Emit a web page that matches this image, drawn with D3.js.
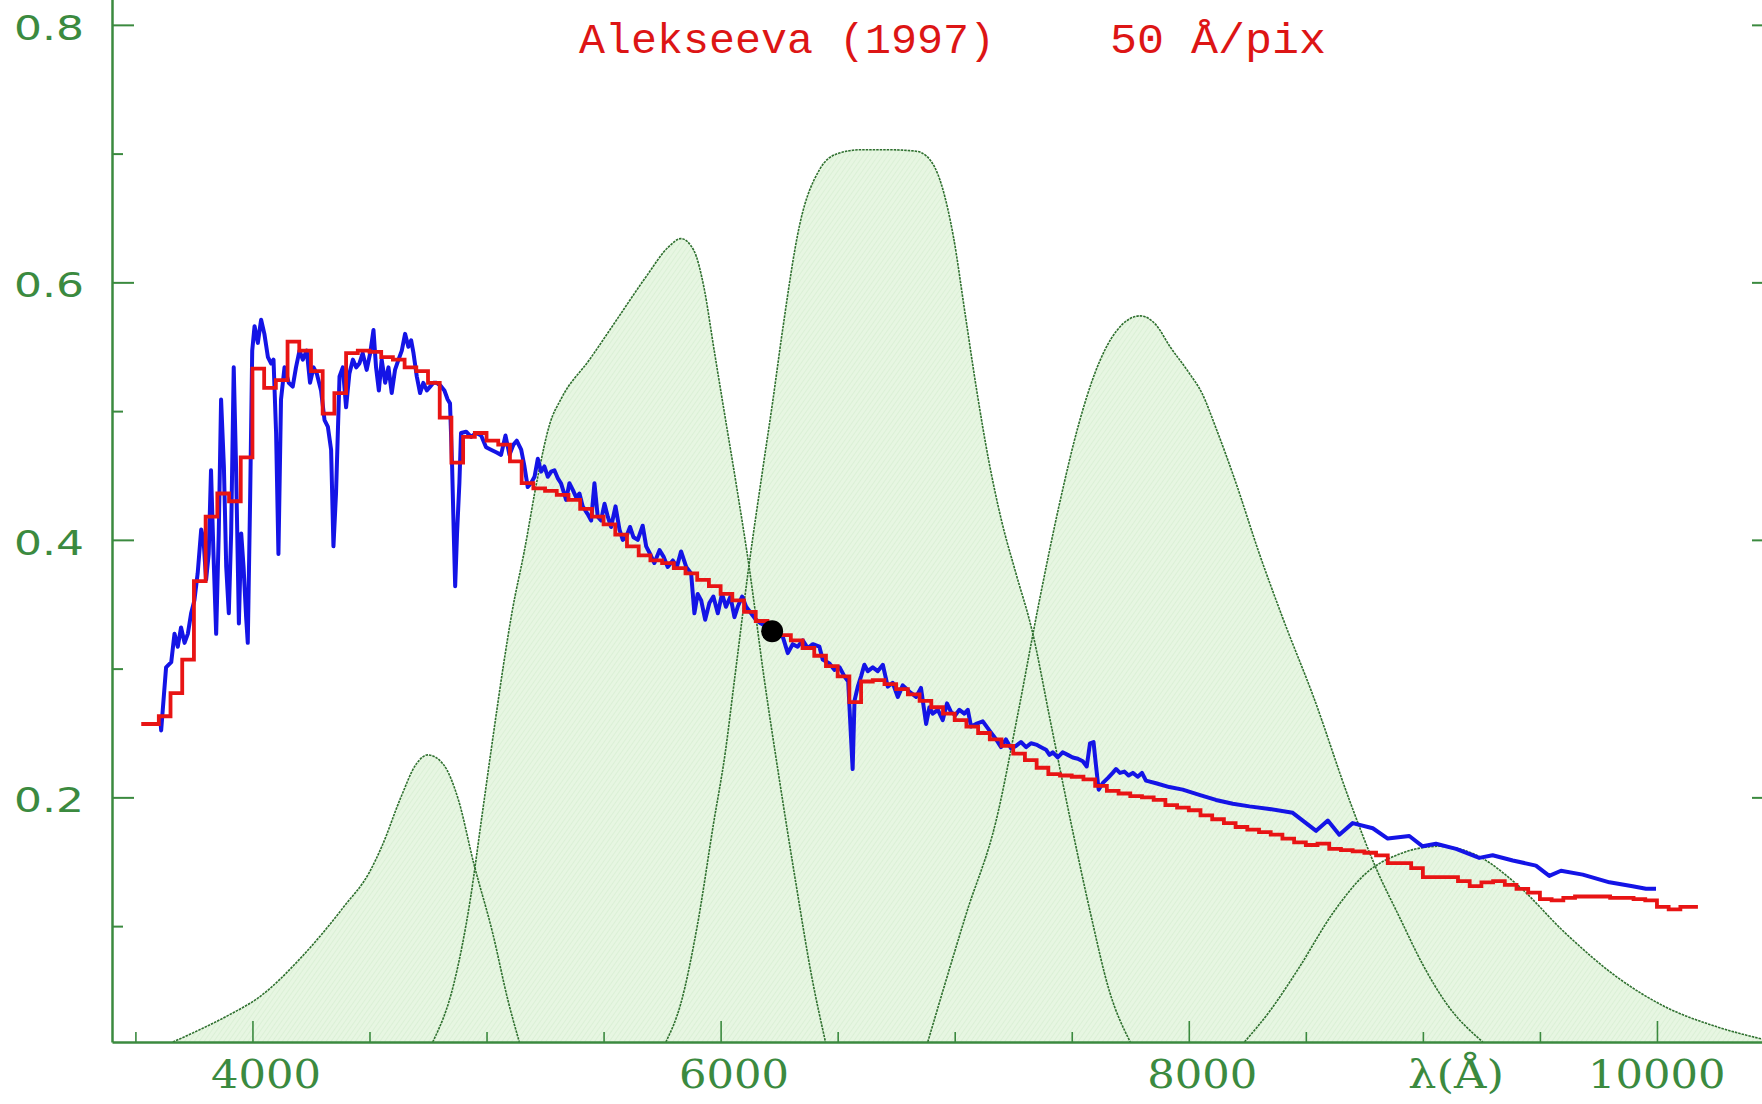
<!DOCTYPE html>
<html lang="en">
<head>
<meta charset="UTF-8">
<title>Alekseeva (1997) spectrum and filter curves</title>
<style>
  body { margin: 0; background: #fff; }
  svg { display: block; }
</style>
</head>
<body>
<svg id="chart"></svg>
<script src="https://d3js.org/d3.v7.min.js"></script>
<script>
// filter transmission curves [wavelength, value]
const filterB = [[3660,0.01],[3780,0.02],[3900,0.031],[4030,0.045],[4210,0.076],[4390,0.115],[4500,0.142],[4553,0.162],[4634,0.200],[4700,0.226],[4749,0.233],[4814,0.226],[4880,0.198],[4945,0.149],[5027,0.094],[5092,0.042],[5140,0.01]];
const filterV = [[4770,0.01],[4860,0.055],[4930,0.12],[4980,0.185],[5030,0.25],[5070,0.30],[5110,0.345],[5160,0.39],[5220,0.45],[5270,0.49],[5320,0.51],[5440,0.54],[5560,0.572],[5680,0.604],[5780,0.628],[5830,0.634],[5885,0.625],[5930,0.595],[5970,0.55],[6015,0.50],[6065,0.445],[6121,0.38],[6187,0.291],[6250,0.215],[6320,0.135],[6390,0.06],[6448,0.01]];
const filterR = [[5766,0.01],[5830,0.04],[5900,0.10],[5970,0.18],[6020,0.235],[6059,0.291],[6121,0.38],[6180,0.455],[6223,0.508],[6260,0.557],[6338,0.645],[6424,0.688],[6500,0.700],[6600,0.703],[6712,0.703],[6830,0.702],[6880,0.698],[6945,0.675],[6995,0.635],[7045,0.575],[7095,0.515],[7145,0.462],[7200,0.415],[7260,0.375],[7330,0.33],[7410,0.258],[7497,0.18],[7580,0.11],[7660,0.05],[7750,0.01]];
const filterI = [[6885,0.01],[6950,0.05],[7050,0.11],[7177,0.182],[7270,0.265],[7362,0.353],[7450,0.43],[7530,0.49],[7600,0.53],[7690,0.562],[7792,0.574],[7860,0.567],[7920,0.55],[8000,0.53],[8056,0.514],[8120,0.485],[8200,0.445],[8300,0.39],[8400,0.34],[8537,0.276],[8686,0.198],[8800,0.145],[8900,0.107],[9000,0.07],[9100,0.04],[9256,0.01]];
const filterZ = [[8238,0.01],[8350,0.035],[8472,0.068],[8615,0.110],[8757,0.141],[8900,0.156],[9070,0.162],[9241,0.154],[9398,0.133],[9612,0.094],[9825,0.061],[10039,0.037],[10253,0.022],[10480,0.011]];

// observed spectrum (blue)
const spectrum = [[3606,0.262],[3610,0.252],[3631,0.301],[3653,0.305],[3667,0.327],[3681,0.317],[3695,0.332],[3710,0.320],[3724,0.327],[3738,0.343],[3752,0.353],[3766,0.374],[3781,0.408],[3791,0.400],[3802,0.369],[3813,0.389],[3823,0.454],[3833,0.392],[3845,0.327],[3856,0.405],[3866,0.509],[3878,0.457],[3888,0.379],[3899,0.343],[3909,0.405],[3920,0.534],[3930,0.457],[3942,0.335],[3952,0.405],[3962,0.379],[3973,0.340],[3980,0.320],[3990,0.431],[3999,0.547],[4009,0.566],[4023,0.553],[4037,0.571],[4051,0.560],[4066,0.542],[4080,0.537],[4090,0.540],[4101,0.483],[4111,0.389],[4122,0.509],[4137,0.534],[4155,0.522],[4172,0.519],[4186,0.534],[4201,0.547],[4215,0.540],[4232,0.547],[4246,0.522],[4261,0.534],[4275,0.529],[4293,0.516],[4308,0.493],[4322,0.488],[4336,0.470],[4346,0.395],[4357,0.436],[4372,0.527],[4386,0.534],[4400,0.503],[4414,0.529],[4429,0.540],[4443,0.534],[4457,0.537],[4471,0.545],[4488,0.532],[4503,0.545],[4517,0.563],[4528,0.534],[4540,0.516],[4552,0.540],[4567,0.522],[4581,0.534],[4595,0.514],[4609,0.532],[4624,0.540],[4638,0.547],[4652,0.560],[4666,0.550],[4678,0.555],[4688,0.545],[4702,0.527],[4716,0.514],[4730,0.522],[4745,0.516],[4759,0.519],[4773,0.522],[4787,0.522],[4802,0.520],[4820,0.516],[4834,0.509],[4844,0.506],[4853,0.457],[4860,0.405],[4866,0.364],[4874,0.405],[4884,0.444],[4891,0.483],[4913,0.484],[4934,0.480],[4955,0.483],[4977,0.481],[4998,0.472],[5019,0.470],[5041,0.468],[5062,0.466],[5081,0.481],[5098,0.466],[5115,0.474],[5129,0.477],[5148,0.470],[5162,0.457],[5176,0.441],[5190,0.444],[5205,0.449],[5219,0.463],[5233,0.453],[5247,0.457],[5262,0.449],[5276,0.453],[5290,0.454],[5304,0.448],[5318,0.444],[5340,0.431],[5354,0.444],[5368,0.439],[5383,0.433],[5397,0.436],[5411,0.426],[5432,0.420],[5447,0.415],[5461,0.444],[5475,0.418],[5489,0.415],[5504,0.428],[5518,0.418],[5532,0.410],[5551,0.426],[5568,0.408],[5582,0.400],[5596,0.402],[5613,0.410],[5628,0.402],[5646,0.400],[5667,0.411],[5682,0.395],[5699,0.389],[5717,0.382],[5739,0.392],[5756,0.387],[5774,0.379],[5796,0.384],[5813,0.379],[5831,0.391],[5853,0.379],[5874,0.374],[5888,0.343],[5902,0.358],[5917,0.353],[5934,0.338],[5952,0.351],[5969,0.356],[5988,0.343],[6006,0.358],[6023,0.348],[6042,0.356],[6059,0.340],[6073,0.348],[6092,0.356],[6109,0.348],[6130,0.343],[6151,0.338],[6173,0.335],[6223,0.330],[6265,0.325],[6287,0.312],[6308,0.319],[6329,0.317],[6351,0.322],[6372,0.316],[6394,0.319],[6422,0.317],[6436,0.307],[6465,0.304],[6486,0.299],[6508,0.301],[6529,0.294],[6545,0.290],[6556,0.250],[6564,0.222],[6572,0.275],[6586,0.286],[6600,0.294],[6614,0.303],[6629,0.298],[6650,0.301],[6671,0.298],[6693,0.303],[6714,0.286],[6735,0.289],[6757,0.278],[6778,0.287],[6807,0.282],[6835,0.278],[6856,0.285],[6878,0.257],[6892,0.270],[6906,0.265],[6928,0.268],[6949,0.260],[6967,0.273],[6985,0.266],[7003,0.264],[7020,0.268],[7041,0.265],[7056,0.268],[7070,0.255],[7091,0.257],[7120,0.259],[7148,0.252],[7177,0.245],[7198,0.239],[7219,0.245],[7241,0.238],[7262,0.240],[7283,0.243],[7305,0.239],[7326,0.242],[7348,0.241],[7369,0.239],[7390,0.237],[7405,0.233],[7419,0.235],[7440,0.231],[7461,0.235],[7483,0.233],[7504,0.231],[7526,0.230],[7547,0.228],[7564,0.224],[7578,0.242],[7593,0.243],[7604,0.224],[7615,0.206],[7632,0.211],[7654,0.215],[7675,0.219],[7689,0.222],[7706,0.219],[7725,0.220],[7743,0.217],[7761,0.219],[7782,0.216],[7800,0.219],[7817,0.213],[7860,0.211],[7917,0.208],[7974,0.206],[8045,0.202],[8116,0.198],[8188,0.195],[8259,0.193],[8344,0.191],[8444,0.188],[8487,0.182],[8544,0.174],[8594,0.182],[8643,0.171],[8700,0.180],[8786,0.176],[8850,0.168],[8942,0.170],[8999,0.162],[9056,0.164],[9142,0.160],[9241,0.153],[9298,0.155],[9384,0.151],[9483,0.147],[9540,0.139],[9590,0.143],[9683,0.140],[9797,0.134],[9896,0.131],[9953,0.129],[9996,0.129]];

// 50 A/pix binned spectrum (red), bin centres
const binCenters = d3.range(3525, 10176, 50);
const binned = [0.257,0.257,0.263,0.281,0.307,0.368,0.418,0.436,0.430,0.464,
  0.533,0.518,0.524,0.554,0.547,0.531,0.498,0.514,0.545,0.547,
  0.546,0.542,0.540,0.534,0.531,0.522,0.495,0.460,0.480,0.483,
  0.477,0.474,0.461,0.444,0.440,0.438,0.435,0.431,0.424,0.418,
  0.412,0.404,0.395,0.388,0.384,0.382,0.378,0.374,0.369,0.364,
  0.358,0.353,0.344,0.337,0.331,0.326,0.322,0.316,0.310,0.302,
  0.294,0.274,0.290,0.291,0.288,0.284,0.280,0.275,0.270,0.265,
  0.260,0.255,0.250,0.245,0.240,0.234,0.229,0.223,0.218,0.217,
  0.216,0.214,0.209,0.205,0.203,0.201,0.200,0.198,0.194,0.192,
  0.190,0.186,0.183,0.180,0.177,0.175,0.173,0.171,0.168,0.165,
  0.163,0.164,0.160,0.159,0.158,0.157,0.155,0.149,0.149,0.145,
  0.138,0.138,0.138,0.135,0.131,0.134,0.135,0.132,0.129,0.126,
  0.121,0.120,0.122,0.123,0.123,0.123,0.122,0.122,0.121,0.120,
  0.115,0.113,0.115,0.115];

const refPoint = [6220, 0.329];

const xMajor = [4000, 6000, 8000, 10000];
const xMinor = [3500, 4500, 5000, 5500, 6500, 7000, 7500, 8500, 9000, 9500];
const yMajor = [0.2, 0.4, 0.6, 0.8];
const yMinor = [0.1, 0.3, 0.5, 0.7];

const width = 1762, height = 1104;
const green = "#3b8a3f";
const xMin = 3400, xMax = 10500, yMin = 0.01, yMax = 0.82;

const x = d3.scaleLinear().domain([xMin, xMax]).range([112, 1774]);
const y = d3.scaleLinear().domain([yMin, yMax]).range([1042, -0.9]);

const svg = d3.select("#chart").attr("width", width).attr("height", height);

// fine hatch for the filter fills
const pat = svg.append("defs").append("pattern")
    .attr("id", "hatch").attr("patternUnits", "userSpaceOnUse")
    .attr("width", 4).attr("height", 4)
    .attr("patternTransform", "rotate(35)");
pat.append("rect").attr("width", 4).attr("height", 4).attr("fill", "#e7f6e2");
pat.append("line").attr("x1", 0).attr("y1", 0).attr("x2", 0).attr("y2", 4)
    .attr("stroke", "#d8eed3").attr("stroke-width", 1.5);

const filters = [filterB, filterV, filterR, filterI, filterZ];

const area = d3.area()
    .x(d => x(d[0])).y0(y(yMin)).y1(d => y(d[1]))
    .curve(d3.curveMonotoneX);
const outline = d3.line()
    .x(d => x(d[0])).y(d => y(d[1]))
    .curve(d3.curveMonotoneX);

svg.append("g").selectAll("path").data(filters).join("path")
    .attr("d", area).attr("fill", "url(#hatch)");
svg.append("g").selectAll("path").data(filters).join("path")
    .attr("d", outline).attr("fill", "none")
    .attr("stroke", "#2f702f").attr("stroke-width", 1.6)
    .attr("stroke-dasharray", "2.5,1");

// axes
function styleAxis(g, w) {
    g.selectAll(".domain").attr("stroke", green).attr("stroke-width", 2.5);
    g.selectAll(".tick line").attr("stroke", green).attr("stroke-width", w);
}

const gxMinor = svg.append("g").attr("transform", `translate(0,${y(yMin)})`)
    .call(d3.axisBottom(x).tickValues(xMinor).tickSize(-10).tickSizeOuter(0).tickFormat(""));
gxMinor.select(".domain").remove();
styleAxis(gxMinor, 1.6);

const gx = svg.append("g").attr("transform", `translate(0,${y(yMin)})`)
    .call(d3.axisBottom(x).tickValues(xMajor).tickSize(-21).tickSizeOuter(0).tickFormat(d3.format("d")));
styleAxis(gx, 1.6);
gx.selectAll(".tick text")
    .attr("x", 68).attr("y", 46).attr("dy", 0)
    .attr("text-anchor", "end")
    .attr("fill", green)
    .attr("font-family", "'DejaVu Serif', serif")
    .attr("font-size", 40)
    .attr("textLength", d => 27.5 * String(d).length)
    .attr("lengthAdjust", "spacingAndGlyphs");

const gyMinor = svg.append("g").attr("transform", `translate(${x(xMin)},0)`)
    .call(d3.axisLeft(y).tickValues(yMinor).tickSize(-11).tickSizeOuter(0).tickFormat(""));
gyMinor.select(".domain").remove();
styleAxis(gyMinor, 2);

const gy = svg.append("g").attr("transform", `translate(${x(xMin)},0)`)
    .call(d3.axisLeft(y).tickValues(yMajor).tickSize(-22).tickSizeOuter(0).tickFormat(d3.format(".1f")));
styleAxis(gy, 2);
gy.selectAll(".tick text")
    .attr("x", -28).attr("dy", 14.6)
    .attr("text-anchor", "end")
    .attr("fill", green)
    .attr("font-family", "'DejaVu Sans', sans-serif")
    .attr("font-size", 34)
    .attr("textLength", 70)
    .attr("lengthAdjust", "spacingAndGlyphs");

const gyR = svg.append("g").attr("transform", `translate(${x(xMax)},0)`)
    .call(d3.axisRight(y).tickValues(yMajor).tickSize(-22).tickSizeOuter(0).tickFormat(""));
styleAxis(gyR, 2);
const gyRMinor = svg.append("g").attr("transform", `translate(${x(xMax)},0)`)
    .call(d3.axisRight(y).tickValues(yMinor).tickSize(-11).tickSizeOuter(0).tickFormat(""));
gyRMinor.select(".domain").remove();
styleAxis(gyRMinor, 2);

// spectra
svg.append("path").datum(spectrum)
    .attr("d", d3.line().x(d => x(d[0])).y(d => y(d[1])))
    .attr("fill", "none").attr("stroke", "#1414e6")
    .attr("stroke-width", 4).attr("stroke-linejoin", "round");

svg.append("path").datum(binCenters.map((c, i) => [c, binned[i]]))
    .attr("d", d3.line().x(d => x(d[0])).y(d => y(d[1])).curve(d3.curveStep))
    .attr("fill", "none").attr("stroke", "#e81414")
    .attr("stroke-width", 3.8);

svg.append("circle")
    .attr("cx", x(refPoint[0])).attr("cy", y(refPoint[1])).attr("r", 11)
    .attr("fill", "#000");

// labels
svg.append("text")
    .attr("x", 579).attr("y", 53)
    .attr("fill", "#dd1515")
    .attr("font-family", "'Liberation Mono', monospace")
    .attr("font-size", 42)
    .attr("textLength", 416).attr("lengthAdjust", "spacingAndGlyphs")
    .text("Alekseeva (1997)");

svg.append("text")
    .attr("x", 1110).attr("y", 53)
    .attr("fill", "#dd1515")
    .attr("font-family", "'Liberation Mono', monospace")
    .attr("font-size", 42)
    .attr("textLength", 216).attr("lengthAdjust", "spacingAndGlyphs")
    .text("50 Å/pix");

svg.append("text")
    .attr("x", 1408).attr("y", 1088)
    .attr("fill", green)
    .attr("font-family", "'DejaVu Serif', serif")
    .attr("font-size", 40)
    .attr("textLength", 96).attr("lengthAdjust", "spacingAndGlyphs")
    .text("λ(Å)");
</script>
</body>
</html>
